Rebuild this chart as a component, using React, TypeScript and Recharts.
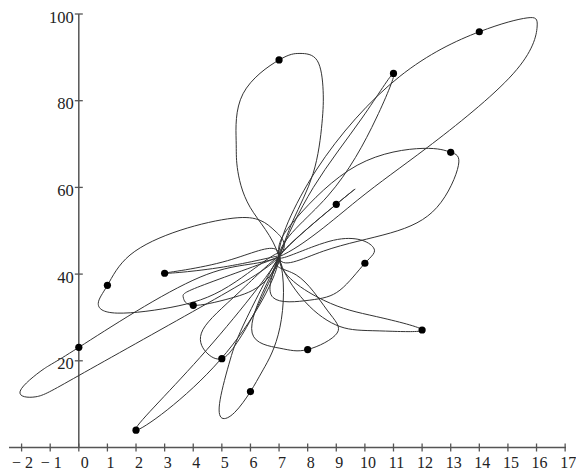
import { ComposedChart, Line, Scatter, XAxis, YAxis, ReferenceLine } from 'recharts';

// the fifteen marked points
const dotX = [0, 1, 2, 3, 4, 5, 6, 7, 8, 9, 10, 11, 12, 13, 14];
const dotY = [23.1, 37.4, 4.0, 40.2, 32.8, 20.5, 12.9, 89.4, 22.6, 56.1, 42.5, 86.3, 27.1, 68.1, 95.9];

// vertices of the traced curve (hub at 7, 44)
const traceX = [
    9.66, 9.0, 7,
    8.9, 10.29, 10.0, 9.13, 8.08, 6.79, 7,
    8.2, 9.9, 11.0, 10.4, 8.7, 7,
    8.55, 10.4, 12.0, 10.5, 9.13, 7.9, 7,
    7.63, 9.73, 12.03, 13.0, 13.27, 12.52, 10.9, 8.55, 7,
    8.3, 11.2, 14.0, 15.67, 16.02, 15.18, 12.18, 9.73, 7,
    4.24, 0.0, -1.25, -2.05, -1.5, 0.0, 4.24, 7,
    6.9, 6.34, 5.39, 3.54, 1.79, 1.0, 0.68, 1.34, 3.5, 5.5, 7,
    4.24, 2.0, 4.94, 7,
    5.2, 3.0, 5.2, 7,
    4.4, 3.65, 4.0, 5.29, 6.5, 7,
    5.6, 4.34, 4.45, 5.0, 5.53, 6.3, 7,
    5.88, 5.29, 4.94, 5.0, 5.45, 6.0, 6.44, 7.03, 7,
    5.99, 5.54, 5.5, 5.74, 7.0, 7.73, 8.33, 8.54, 8.5, 8.19, 7.49, 7,
    6.5, 6.06, 7.03, 8.0, 9.03, 8.68, 7.6, 7,
    9.0, 9.66,
];
const traceY = [
    59.6, 56.1, 44,
    47.8, 46.2, 42.5, 36.3, 34.0, 34.6, 44,
    60, 76, 86.3, 76, 58, 44,
    34.0, 30.2, 27.1, 26.9, 27.9, 33.7, 44,
    53.1, 65.1, 69.0, 68.1, 65.1, 55.4, 49.5, 45.3, 44,
    64, 85.5, 95.9, 99.1, 97, 86.2, 69.2, 57.0, 44,
    39.3, 23.1, 18.0, 13.0, 11.7, 16.6, 32.3, 44,
    49.7, 52.4, 52.9, 50.1, 44.4, 37.4, 33.2, 31.0, 32.7, 38.3, 44,
    20.8, 4.0, 20.2, 44,
    43.1, 40.2, 41.8, 44,
    37.6, 34.7, 32.8, 34.4, 38.3, 44,
    35.8, 27.2, 22.0, 20.5, 24.2, 33.2, 44,
    30.0, 20.2, 11.0, 6.8, 8.1, 12.9, 17.9, 27.7, 44,
    55.4, 64.6, 70.8, 81.6, 89.4, 90.9, 89.3, 82.4, 74.8, 63.2, 52.4, 44,
    36.8, 26.4, 22.9, 22.6, 26.4, 31.7, 39.8, 44,
    56.1, 59.6,
];

const xTicks = [-2, -1, 0, 1, 2, 3, 4, 5, 6, 7, 8, 9, 10, 11, 12, 13, 14, 15, 16, 17];
const yTicks = [20, 40, 60, 80, 100];

const AXIS = '#555';
const FONT = '"Liberation Serif", "Times New Roman", serif';

const curveData = traceX.map((x, i) => ({ x, y: traceY[i] }));
const dotData = dotX.map((x, i) => ({ x, y: dotY[i] }));

const XTick = (props: any) => {
    const { x, y, payload } = props;
    const v = payload.value;
    const label = v < 0 ? `\u2212 ${-v}` : String(v);
    const dx = v === 0 ? 6 : v < 0 ? 1 : 3;
    return (
        <g>
            <line x1={x} x2={x} y1={y - 4} y2={y + 4} stroke={AXIS} strokeWidth={1.3} />
            <text x={x + dx} y={y + 20} textAnchor="middle" fontFamily={FONT} fontSize={16} fill="#222">
                {label}
            </text>
        </g>
    );
};

const yTickShape = (value: number) => (p: any) => (
    <g>
        <line x1={p.x1} x2={p.x2} y1={p.y1} y2={p.y2} stroke={AXIS} strokeWidth={1.3} />
        <text x={Math.min(p.x1, p.x2) - 1} y={p.y1 + 8.5} textAnchor="end" fontFamily={FONT} fontSize={16.5} fill="#222">
            {value}
        </text>
    </g>
);

export default function App() {
    return (
        <div style={{ position: 'absolute', left: 0, top: 0, background: '#fff' }}>
            <ComposedChart width={576} height={471} margin={{ top: 14, right: 10, bottom: 0, left: 9 }}>
                <XAxis
                    type="number"
                    dataKey="x"
                    domain={[-2.44, 17.03]}
                    ticks={xTicks}
                    interval={0}
                    height={23.5}
                    tickSize={0}
                    tickMargin={0}
                    tickLine={false}
                    axisLine={{ stroke: AXIS, strokeWidth: 1.5 }}
                    tick={<XTick />}
                    allowDataOverflow
                />
                <YAxis type="number" dataKey="y" domain={[0, 100]} hide allowDataOverflow />
                <ReferenceLine x={0} stroke={AXIS} strokeWidth={1.5} />
                {yTicks.map(t => (
                    <ReferenceLine
                        key={t}
                        segment={[{ x: -0.14, y: t }, { x: 0.14, y: t }]}
                        shape={yTickShape(t)}
                    />
                ))}
                <Line
                    data={curveData}
                    dataKey="y"
                    type="natural"
                    stroke="#333"
                    strokeWidth={1}
                    dot={false}
                    activeDot={false}
                    isAnimationActive={false}
                />
                <Scatter data={dotData} dataKey="y" fill="#000" isAnimationActive={false}
                    shape={(p: any) => <circle cx={p.cx} cy={p.cy} r={3.6} fill="#000" />} />
            </ComposedChart>
        </div>
    );
}
